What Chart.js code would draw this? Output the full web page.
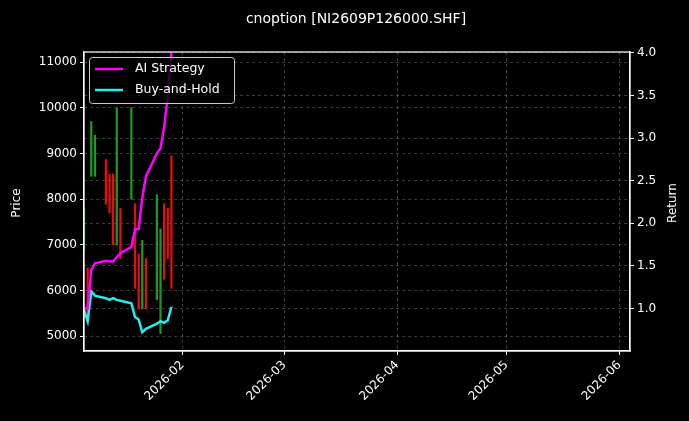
<!DOCTYPE html>
<html><head><meta charset="utf-8">
<script src="https://cdn.jsdelivr.net/npm/chart.js@4"></script>
<style>html,body{margin:0;background:#000;}#w{width:689px;height:421px;}</style>
</head><body><div id="w"><canvas id="c" width="689" height="421"></canvas></div>
<script>
// day of year 2026 (Jan 1 = 1)
const days = [5,6,7,8,11,12,13,14,15,18,19,20,21,22,25,26,27,28,29];
const highs = [7800,6500,9700,9400,8870,8550,8550,10000,7800,10000,7900,6800,7100,6700,8100,7350,7900,7800,8950];
const lows  = [6900,5300,8500,8500,7890,7700,7000,7000,6700,8000,6050,5600,5600,5600,5800,5060,6250,6700,6050];
const up    = [1,0,1,1,0,0,0,1,0,1,0,0,1,0,1,1,0,0,0];
const aiReturn = [1.0,1.0,1.45,1.53,1.56,1.55,1.55,1.6,1.65,1.72,1.93,1.93,2.3,2.55,2.82,2.88,3.13,3.5,4.0];
const bhReturn = [0.98,0.85,1.2,1.15,1.12,1.1,1.12,1.1,1.09,1.06,0.9,0.87,0.72,0.76,0.82,0.85,0.83,0.86,1.02];
const monthTicks = [32,60,91,121,152];
const monthLabels = ['2026-02','2026-03','2026-04','2026-05','2026-06'];

const W='#ffffff';
const F='"DejaVu Sans"';
const overlay={id:'ov',afterDraw(ch){const c=ch.ctx;c.save();
 c.fillStyle=W;c.font='14px '+F;c.textAlign='center';c.textBaseline='middle';
 c.fillText('cnoption [NI2609P126000.SHF]',356,19);
 c.font='12px '+F;
 c.save();c.translate(17,203);c.rotate(-Math.PI/2);c.fillText('Price',0,0);c.restore();
 c.save();c.translate(673,203);c.rotate(-Math.PI/2);c.fillText('Return',0,0);c.restore();
 const x=89,y=57;c.fillStyle='rgba(0,0,0,0.8)';c.strokeStyle='#cccccc';c.lineWidth=1;
 c.beginPath();c.roundRect(x+.5,y+.5,145,46,3);c.fill();c.stroke();
 c.lineWidth=2.5;c.strokeStyle='#ff00ff';c.beginPath();c.moveTo(x+6,y+12);c.lineTo(x+34,y+12);c.stroke();
 c.strokeStyle='#22eeee';c.beginPath();c.moveTo(x+6,y+33);c.lineTo(x+34,y+33);c.stroke();
 c.fillStyle=W;c.font='12.5px '+F;c.textAlign='left';
 c.fillText('AI Strategy',x+46,y+12);c.fillText('Buy-and-Hold',x+46,y+33);
 c.restore();}};

const gridC='rgba(150,150,150,0.4)';
new Chart(document.getElementById('c'),{
 data:{datasets:[
  {type:'line',label:'AI Strategy',data:days.map((d,i)=>({x:d,y:aiReturn[i]})),borderColor:'#ff00ff',borderWidth:2.5,pointRadius:0,yAxisID:'y1',order:0},
  {type:'line',label:'Buy-and-Hold',data:days.map((d,i)=>({x:d,y:bhReturn[i]})),borderColor:'#22eeee',borderWidth:2.5,pointRadius:0,yAxisID:'y1',order:0},
  {type:'bar',label:'Price',data:days.map((d,i)=>({x:d,y:[lows[i],highs[i]]})),backgroundColor:up.map(u=>u?'#1f9a1f':'#e01010'),barThickness:1.6,yAxisID:'y',order:1}
 ]},
 options:{responsive:false,animation:false,
  layout:{padding:{top:52,left:0,right:0,bottom:0}},
  plugins:{legend:{display:false},tooltip:{enabled:false}},
  scales:{
   x:{type:'linear',min:5,max:154.9,offset:false,
     afterBuildTicks(s){s.ticks=monthTicks.map(v=>({value:v}));},
     afterFit(s){s.height=70;},
     ticks:{color:W,font:{size:12,family:'DejaVu Sans'},minRotation:45,maxRotation:45,callback:(v)=>monthLabels[monthTicks.indexOf(v)]},
     grid:{color:gridC,tickColor:W,tickLength:4,offset:false},
     border:{color:W,width:1.2,dash:[3,3]}},
   y:{position:'left',min:4680,max:11220,
     afterBuildTicks(s){s.ticks=[5000,6000,7000,8000,9000,10000,11000].map(v=>({value:v}));},
     afterFit(s){s.width=84;},
     ticks:{color:W,font:{size:12,family:'DejaVu Sans'},callback:v=>String(v)},
     grid:{color:gridC,tickColor:W,tickLength:4},
     border:{color:W,width:1.2,dash:[3,3]}},
   y1:{position:'right',min:0.5,max:4.01,
     afterBuildTicks(s){s.ticks=[1.0,1.5,2.0,2.5,3.0,3.5,4.0].map(v=>({value:v}));},
     afterFit(s){s.width=59;},
     ticks:{color:W,font:{size:12,family:'DejaVu Sans'},callback:v=>v.toFixed(1)},
     grid:{color:gridC,tickColor:W,tickLength:4},
     border:{color:W,width:1.2,dash:[3,3]}}
  }},
 plugins:[overlay,{id:'bg',beforeDraw(ch){const c=ch.ctx;c.save();c.fillStyle='#000';c.fillRect(0,0,ch.width,ch.height);c.restore();},
  afterDatasetsDraw(ch){const a=ch.chartArea,c=ch.ctx;c.save();c.strokeStyle=W;c.lineWidth=1.2;c.strokeRect(a.left,a.top,a.right-a.left,a.bottom-a.top);c.restore();}}]
});
</script></body></html>
